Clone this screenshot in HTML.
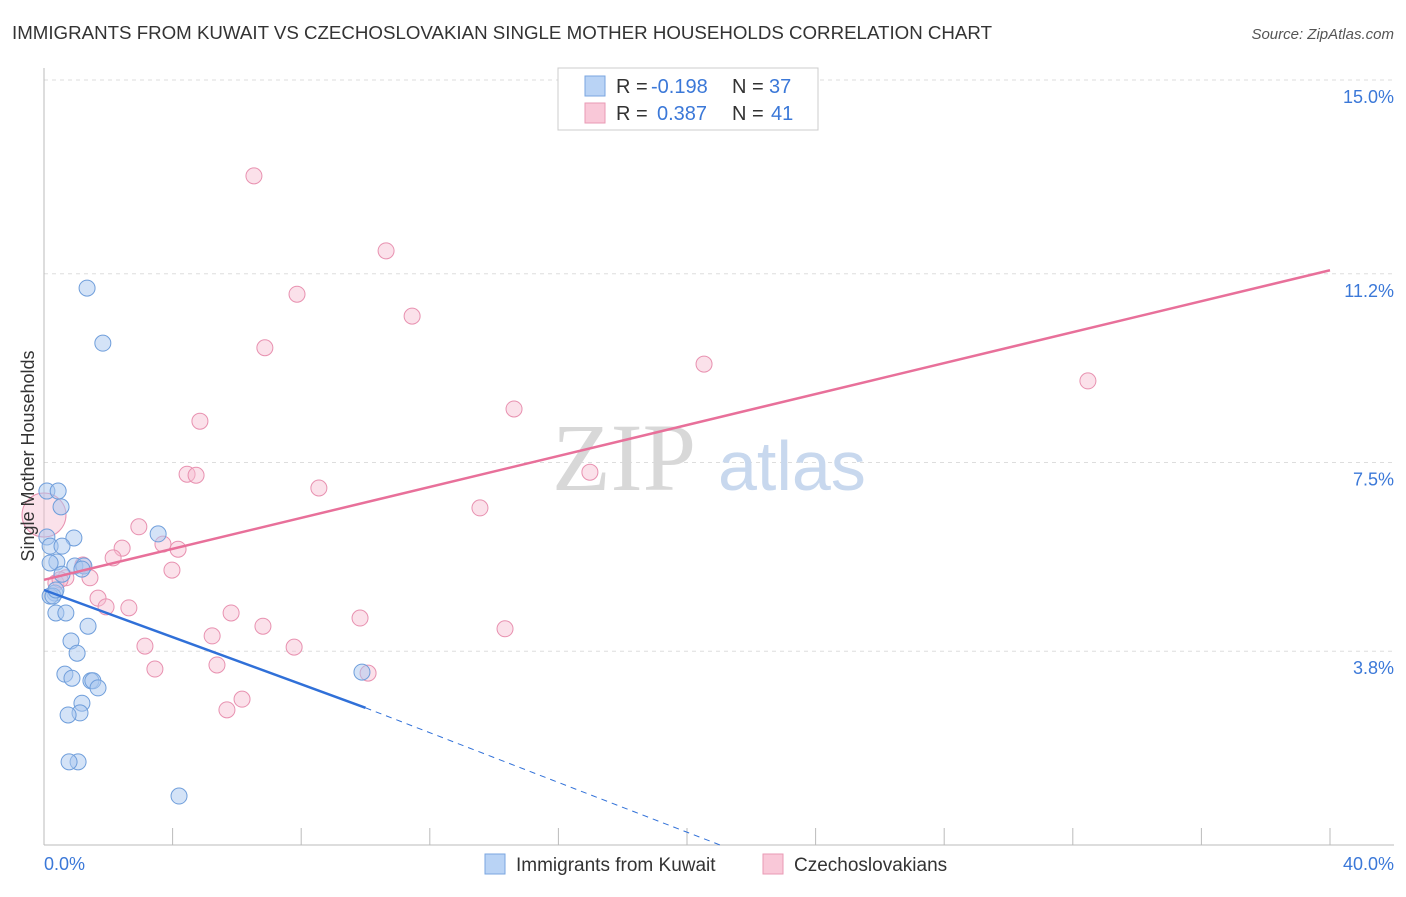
<!DOCTYPE html>
<html><head><meta charset="utf-8"><style>
body{margin:0;background:#fff;font-family:"Liberation Sans",sans-serif}
</style></head><body>
<svg width="1406" height="892" xmlns="http://www.w3.org/2000/svg" font-family="Liberation Sans, sans-serif">
<text x="12" y="39" font-size="18.5" fill="#333" textLength="980" lengthAdjust="spacingAndGlyphs">IMMIGRANTS FROM KUWAIT VS CZECHOSLOVAKIAN SINGLE MOTHER HOUSEHOLDS CORRELATION CHART</text>
<text x="1394" y="39" font-size="15" fill="#555" text-anchor="end" font-style="italic">Source: ZipAtlas.com</text>
<g id="grid"></g>
<text x="552" y="490" font-size="96" fill="#d8d8d8" style="font-family:'Liberation Serif',serif">ZIP</text>
<text x="718" y="490" font-size="70" fill="#c8d8ee">atlas</text>
<g id="marks"></g>
<text x="34" y="456" font-size="18" fill="#333" text-anchor="middle" transform="rotate(-90 34 456)">Single Mother Households</text>
<text x="44" y="870" font-size="18" fill="#3b78d8">0.0%</text>
<text x="1394" y="870" font-size="18" fill="#3b78d8" text-anchor="end">40.0%</text>
<g>
<rect x="558" y="68" width="260" height="62" fill="#fff" stroke="#ccc"/>
<rect x="585" y="76" width="20" height="20" fill="#b9d3f5" stroke="#7aa6e0"/>
<rect x="585" y="103" width="20" height="20" fill="#f9c8d8" stroke="#e99ab4"/>
<text x="616" y="93" font-size="20" fill="#333">R =</text>
<text x="651" y="93" font-size="20" fill="#3b78d8">-0.198</text>
<text x="732" y="93" font-size="20" fill="#333">N =</text>
<text x="769" y="93" font-size="20" fill="#3b78d8">37</text>
<text x="616" y="120" font-size="20" fill="#333">R =</text>
<text x="657" y="120" font-size="20" fill="#3b78d8">0.387</text>
<text x="732" y="120" font-size="20" fill="#333">N =</text>
<text x="771" y="120" font-size="20" fill="#3b78d8">41</text>
</g>
<g>
<rect x="485" y="854" width="20" height="20" fill="#b9d3f5" stroke="#7aa6e0"/>
<text x="516" y="871" font-size="19" fill="#333">Immigrants from Kuwait</text>
<rect x="763" y="854" width="20" height="20" fill="#f9c8d8" stroke="#e99ab4"/>
<text x="794" y="871" font-size="19" fill="#333">Czechoslovakians</text>
</g>
</svg>
<script>
const yTicks=[15.0,11.2,7.5,3.8];
const yTickLabels=["15.0%","11.2%","7.5%","3.8%"];
const xTicks=[0,4,8,12,16,20,24,28,32,36,40];
const kuwaitX=[1.34,1.83,0.09,0.44,0.53,0.09,0.93,0.19,0.56,3.55,0.40,0.19,0.96,1.24,0.56,0.34,0.19,0.28,0.37,0.68,1.37,0.84,1.03,0.65,0.87,1.46,1.52,1.68,1.18,1.12,0.75,1.06,0.78,4.20,9.89,1.18,0.37];
const kuwaitY=[10.92,9.84,6.94,6.94,6.63,6.04,6.02,5.86,5.86,6.10,5.55,5.53,5.47,5.47,5.31,4.94,4.88,4.88,4.55,4.55,4.29,4.00,3.76,3.35,3.27,3.22,3.22,3.08,2.78,2.59,2.55,1.63,1.63,0.96,3.39,5.41,5.00];
const czechX=[6.53,10.64,7.87,11.45,6.87,20.53,32.47,14.62,4.85,4.45,4.73,16.98,8.55,13.56,2.95,3.70,4.17,2.43,2.15,3.98,1.21,1.43,0.68,0.37,1.68,1.93,2.64,5.82,6.81,9.83,14.34,5.23,7.78,3.14,3.45,5.38,10.08,6.16,5.69,0.0,0.50];
const czechY=[13.12,11.65,10.80,10.37,9.75,9.43,9.10,8.55,8.31,7.27,7.25,7.31,7.00,6.61,6.24,5.90,5.80,5.82,5.63,5.39,5.49,5.24,5.24,5.14,4.84,4.67,4.65,4.55,4.29,4.45,4.24,4.10,3.88,3.90,3.45,3.53,3.37,2.86,2.65,6.47,5.20];
const kuwaitTrend=[0,5.00,10,2.69];
const kuwaitDash=[10,2.69,21.03,0];
const czechTrend=[0,5.20,40,11.27];
const X=v=>44+v*32.15, Y=v=>80+(15-v)*51;
const ns="http://www.w3.org/2000/svg";
function mk(tag,at,parent){const e=document.createElementNS(ns,tag);for(const k in at)e.setAttribute(k,at[k]);parent.appendChild(e);return e;}
const g=document.getElementById('grid'), m=document.getElementById('marks');
yTicks.forEach((t,i)=>{
 const l=mk('line',{x1:44,x2:1394,y1:Y(t),y2:Y(t),stroke:'#ddd','stroke-dasharray':'4,4'},g);
 
 
 const tx=mk('text',{x:1394,y:Y(t)+23,'font-size':18,fill:'#3b78d8','text-anchor':'end'},g);
 tx.textContent=yTickLabels[i];
 
 
});
const ax=mk('line',{x1:44,x2:1394,y1:845,y2:845,stroke:'#bbb'},g);


const ay=mk('line',{x1:44,x2:44,y1:68,y2:845,stroke:'#bbb'},g);


xTicks.forEach(t=>{
 const l=mk('line',{x1:X(t),x2:X(t),y1:828,y2:845,stroke:'#bbb'},g);
 
 
});
czechX.forEach((x,i)=>{
 const c=mk('circle',{cx:X(x),cy:Y(czechY[i]),r:i==39?22:8,fill:'#f7bcd0','fill-opacity':0.45,stroke:'#e891b0','stroke-width':1},m);
 
 
});
kuwaitX.forEach((x,i)=>{
 const c=mk('circle',{cx:X(x),cy:Y(kuwaitY[i]),r:8,fill:'#a9c8f0','fill-opacity':0.5,stroke:'#6f9edb','stroke-width':1},m);
 
 
});
const t1=mk('line',{x1:X(czechTrend[0]),y1:Y(czechTrend[1]),x2:X(czechTrend[2]),y2:Y(czechTrend[3]),stroke:'#e8709a','stroke-width':2.5},m);


const t2=mk('line',{x1:X(kuwaitTrend[0]),y1:Y(kuwaitTrend[1]),x2:X(kuwaitTrend[2]),y2:Y(kuwaitTrend[3]),stroke:'#3070d8','stroke-width':2.5},m);


const t3=mk('line',{x1:X(kuwaitDash[0]),y1:Y(kuwaitDash[1]),x2:X(kuwaitDash[2]),y2:Y(kuwaitDash[3]),stroke:'#3070d8','stroke-width':1,'stroke-dasharray':'6,5'},m);


</script>
</body></html>
